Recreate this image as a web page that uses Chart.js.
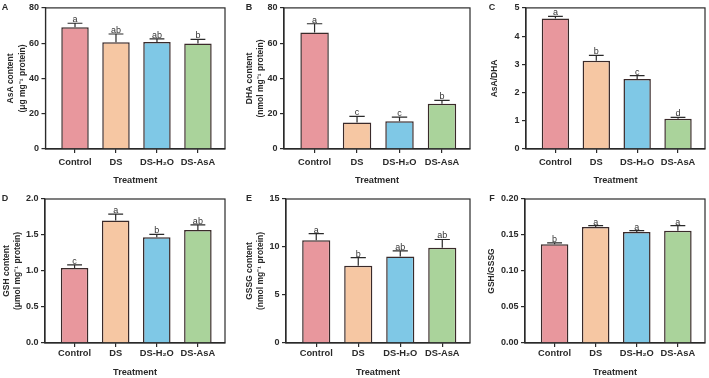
<!DOCTYPE html>
<html>
<head>
<meta charset="utf-8">
<script src="https://cdn.jsdelivr.net/npm/chart.js@4.4.0/dist/chart.umd.min.js"></script>
<style>
body{margin:0;background:#fff;width:709px;height:378px;position:relative;overflow:hidden}
.p{position:absolute}
</style>
</head>
<body>
<div class="p" style="left:0;top:0"><canvas id="cA" width="237" height="189"></canvas></div>
<div class="p" style="left:236px;top:0"><canvas id="cB" width="237" height="189"></canvas></div>
<div class="p" style="left:472px;top:0"><canvas id="cC" width="237" height="189"></canvas></div>
<div class="p" style="left:0;top:189px"><canvas id="cD" width="237" height="189"></canvas></div>
<div class="p" style="left:236px;top:189px"><canvas id="cE" width="237" height="189"></canvas></div>
<div class="p" style="left:472px;top:189px"><canvas id="cF" width="237" height="189"></canvas></div>
<script>

const treatments = ["Control","DS","DS-H₂O","DS-AsA"];
const barColors = ["#E8979D","#F6C7A3","#7FC8E6","#AAD39B"];

const asaMean = [69.0, 60.5, 60.6, 59.8];
const asaErr = [2.3, 4.7, 1.8, 2.3];
const asaLetters = ["a","ab","ab","b"];

const dhaMean = [66.0, 15.0, 15.7, 25.7];
const dhaErr = [5.0, 3.5, 2.4, 1.9];
const dhaLetters = ["a","c","c","b"];

const ratioAsaMean = [4.62, 3.13, 2.48, 1.07];
const ratioAsaErr = [0.08, 0.19, 0.12, 0.05];
const ratioAsaLetters = ["a","b","c","d"];

const gshMean = [1.04, 1.70, 1.47, 1.57];
const gshErr = [0.045, 0.09, 0.04, 0.07];
const gshLetters = ["c","a","b","ab"];

const gssgMean = [10.7, 8.05, 9.0, 9.93];
const gssgErr = [0.7, 0.85, 0.6, 0.85];
const gssgLetters = ["a","b","ab","ab"];

const ratioGshMean = [0.137, 0.161, 0.154, 0.156];
const ratioGshErr = [0.002, 0.002, 0.002, 0.007];
const ratioGshLetters = ["b","a","a","a"];

const FONT = "'Liberation Sans', Arial, sans-serif";
const INK = "#2a2a2a";

const panels = [
   {id:"cA", tag:"A", title:["AsA content","(μg mg⁻¹ protein)"], mean:asaMean, err:asaErr, letters:asaLetters,
    max:80, step:20, dec:0, row:0, left:45.5, right:12, tpad:5.6, tagX:5},
   {id:"cB", tag:"B", title:["DHA content","(nmol mg⁻¹ protein)"], mean:dhaMean, err:dhaErr, letters:dhaLetters,
    max:80, step:20, dec:0, row:0, left:48, right:3, tpad:8, tagX:13},
   {id:"cC", tag:"C", title:"AsA/DHA", mean:ratioAsaMean, err:ratioAsaErr, letters:ratioAsaLetters,
    max:5, step:1, dec:0, row:0, left:54, right:4, tpad:17.6, tagX:20},
   {id:"cD", tag:"D", title:["GSH content","(μmol mg⁻¹ protein)"], mean:gshMean, err:gshErr, letters:gshLetters,
    max:2, step:0.5, dec:1, row:1, left:45, right:12, tpad:1.5, tagX:5},
   {id:"cE", tag:"E", title:["GSSG content","(nmol mg⁻¹ protein)"], mean:gssgMean, err:gssgErr, letters:gssgLetters,
    max:15, step:5, dec:0, row:1, left:50, right:3, tpad:8, tagX:13},
   {id:"cF", tag:"F", title:"GSH/GSSG", mean:ratioGshMean, err:ratioGshErr, letters:ratioGshLetters,
    max:0.20, step:0.05, dec:2, row:1, left:53, right:4, tpad:14.6, tagX:20}
];

/* frame, error bars, letters */
const extras = {
   id:"extras",
   afterDatasetsDraw(chart){
      const {ctx, chartArea:a, scales:{y}} = chart;
      const ds = chart.data.datasets[0];
      const meta = chart.getDatasetMeta(0);
      const p = chart.options.plugins.extras;
      ctx.save();
      ctx.strokeStyle = INK;
      ctx.lineWidth = 1.2;
      ctx.fillStyle = "#333";
      ctx.font = "9px " + FONT;
      ctx.textAlign = "center";
      ctx.textBaseline = "bottom";
      ds.data.forEach(function(pt,i){
         const bar = meta.data[i];
         const top = y.getPixelForValue(pt.y);
         const cap = y.getPixelForValue(pt.y + p.err[i]);
         const half = bar.width*0.27;
         ctx.beginPath();
         ctx.moveTo(bar.x, top);
         ctx.lineTo(bar.x, cap);
         ctx.moveTo(bar.x-half, cap);
         ctx.lineTo(bar.x+half, cap);
         ctx.stroke();
         ctx.fillText(p.letters[i], bar.x, cap+1);
      });
      ctx.strokeRect(a.left, a.top, a.right-a.left, a.bottom-a.top);
      ctx.fillStyle = INK;
      ctx.font = "bold 9px " + FONT;
      ctx.textBaseline = "middle";
      ctx.fillText(p.tag, p.tagX, a.top);
      ctx.restore();
   }
};

panels.forEach(function(p){

   const row1 = p.row === 0;

   new Chart(document.getElementById(p.id), {
      type:"bar",
      data:{
         datasets:[{
            data:p.mean.map((v,i)=>({x:i, y:v})),
            backgroundColor:barColors,
            borderColor:"#3a2a2a",
            borderWidth:1.5,
            barPercentage:0.67,
            categoryPercentage:1
         }]
      },
      options:{
         responsive:false,
         animation:false,
         layout:{padding:{left:0, right:p.right, top:row1 ? 5 : 10, bottom:0}},
         plugins:{
            legend:{display:false},
            tooltip:{enabled:false},
            extras:{err:p.err, letters:p.letters, tag:p.tag, tagX:p.tagX}
         },
         scales:{
            x:{
               type:"linear",
               min:-0.72,
               max:3.66,
               offset:false,
               afterBuildTicks:function(s){
                  s.ticks = treatments.map((t,i)=>({value:i}));
               },
               afterFit:function(s){
                  s.height = row1 ? 40 : 35;
               },
               ticks:{
                  autoSkip:false,
                  maxRotation:0,
                  padding:row1 ? 3.6 : 1.3,
                  color:INK,
                  font:{family:FONT, size:9.3, weight:"bold"},
                  callback:function(v){ return treatments[v]; }
               },
               grid:{drawOnChartArea:false, offset:false, tickLength:4, color:INK, lineWidth:1.2},
               border:{display:true, color:INK, width:1.2},
               title:{
                  display:true,
                  text:"Treatment",
                  color:INK,
                  font:{family:FONT, size:9.2, weight:"bold"},
                  padding:{top:0, bottom:row1 ? 3.5 : 0}
               }
            },
            y:{
               min:0,
               max:p.max,
               afterFit:function(s){
                  s.width = p.left;
               },
               ticks:{
                  stepSize:p.step,
                  padding:2.5,
                  color:INK,
                  font:{family:FONT, size:9, weight:"bold"},
                  callback:function(v){ return v.toFixed(p.dec); }
               },
               grid:{drawOnChartArea:false, tickLength:4, color:INK, lineWidth:1.2},
               border:{display:true, color:INK, width:1.2},
               title:{
                  display:true,
                  text:p.title,
                  color:INK,
                  font:{family:FONT, size:8.5, weight:"bold", lineHeight:1.3},
                  padding:{top:p.tpad, bottom:0}
               }
            }
         }
      },
      plugins:[extras]
   });

});

</script>
</body>
</html>
